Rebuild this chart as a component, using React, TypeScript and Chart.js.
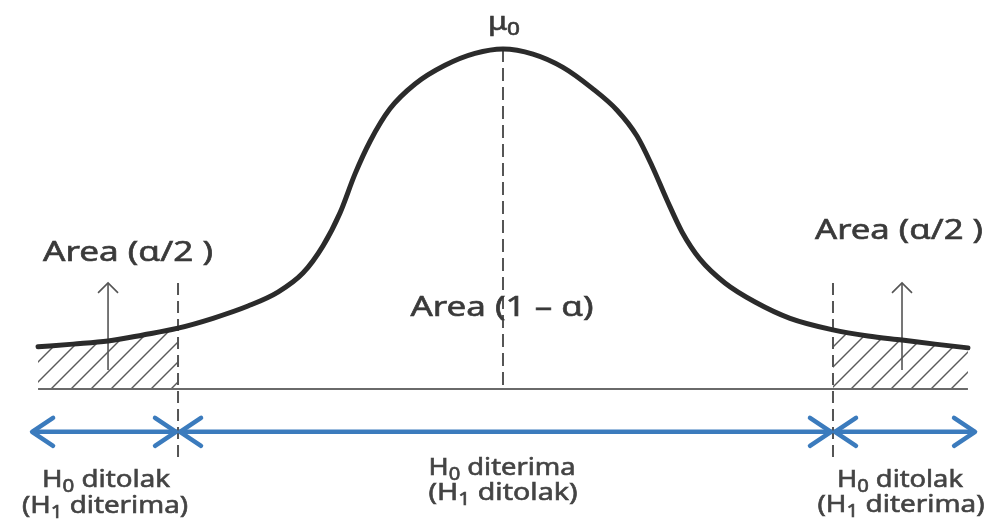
import React, { useEffect, useRef } from "react";
import { Chart, registerables } from "chart.js";

Chart.register(...registerables);

// Bell curve (z = distance from the mean in sd units, h = relative height)
const curveZ = [-2.87, -2.654, -2.438, -2.222, -2.006, -1.79, -1.574, -1.389, -1.235, -1.111, -1.006, -0.914, -0.821, -0.698, -0.543, -0.358, -0.173, 0, 0.185, 0.37, 0.549, 0.704, 0.827, 0.92, 1.012, 1.105, 1.216, 1.37, 1.556, 1.772, 2.037, 2.253, 2.463, 2.667, 2.87];
const curveH = [0.124, 0.132, 0.141, 0.159, 0.179, 0.208, 0.244, 0.285, 0.341, 0.421, 0.518, 0.632, 0.728, 0.824, 0.897, 0.952, 0.987, 1.0, 0.985, 0.946, 0.885, 0.82, 0.744, 0.656, 0.556, 0.462, 0.382, 0.312, 0.256, 0.208, 0.174, 0.156, 0.144, 0.132, 0.121];

const meanZ = 0;
const criticalZ = [-2.006, 2.037];
const baselineEnds = [-2.87, 2.87];
const rangeEnds = [-2.907, 2.914];
const arrowLevel = -0.126;
const guideSpan = [0.312, -0.218];
const upArrowZ = [-2.438, 2.463];
const upArrowSpan = [0.056, 0.312];

const textLabels = ["Area (α/2 )", "Area (α/2 )", "Area (1 – α)"];
const regionTop = ["H|0| ditolak", "H|0| diterima", "H|0| ditolak"];
const regionBottom = ["(H|1| diterima)", "(H|1| ditolak)", "(H|1| diterima)"];
const meanLabel = "μ|0|";

function makePattern(): CanvasPattern | string {
  const c = document.createElement("canvas");
  c.width = 20;
  c.height = 20;
  const g = c.getContext("2d");
  if (!g) return "rgba(0,0,0,0)";
  g.strokeStyle = "#5a5a5a";
  g.lineWidth = 1.4;
  for (const k of [0, 20, 40]) {
    g.beginPath();
    g.moveTo(k - 22, 22);
    g.lineTo(k + 2, -2);
    g.stroke();
  }
  return g.createPattern(c, "repeat") || "#ccc";
}

function parse(s: string) {
  const parts = s.split("|");
  return parts.map((t, i) => ({ t, sub: i % 2 === 1 })).filter((p) => p.t.length);
}

function drawRich(ctx: CanvasRenderingContext2D, text: string, cx: number, base: number, size: number, width: number, color: string) {
  const segs = parse(text);
  ctx.save();
  let total = 0;
  const ms = segs.map((s) => {
    const fs = s.sub ? size * 0.74 : size;
    ctx.font = `${fs}px "Noto Sans"`;
    const w = ctx.measureText(s.t).width;
    total += w;
    return { ...s, fs, w };
  });
  const sx = width / total;
  ctx.translate(cx - width / 2, base);
  ctx.scale(sx, 1);
  ctx.fillStyle = color;
  ctx.strokeStyle = color;
  ctx.lineWidth = 0.6;
  ctx.textBaseline = "alphabetic";
  ctx.textAlign = "left";
  let x = 0;
  for (const m of ms) {
    ctx.font = `${m.fs}px "Noto Sans"`;
    const y = m.sub ? size * 0.2 : 0;
    ctx.fillText(m.t, x, y);
    ctx.strokeText(m.t, x, y);
    x += m.w;
  }
  ctx.restore();
}

const annotPlugin = {
  id: "annot",
  afterDatasetsDraw(chart: any) {
    const ctx: CanvasRenderingContext2D = chart.ctx;
    const xs = chart.scales.x;
    const ys = chart.scales.y;
    const px = (v: number) => xs.getPixelForValue(v);
    const py = (v: number) => ys.getPixelForValue(v);

    ctx.save();
    ctx.strokeStyle = "#3b7bbd";
    ctx.lineWidth = 4.5;
    ctx.lineCap = "round";
    ctx.lineJoin = "round";
    const stops = [rangeEnds[0], criticalZ[0], criticalZ[1], rangeEnds[1]];
    const yA = py(arrowLevel);
    const head = (tip: number, dir: number) => {
      ctx.beginPath();
      ctx.moveTo(tip + dir * 21, yA - 14);
      ctx.lineTo(tip, yA);
      ctx.lineTo(tip + dir * 21, yA + 14);
      ctx.stroke();
    };
    for (let i = 0; i < 3; i++) {
      const a = px(stops[i]);
      const b = px(stops[i + 1]);
      head(a + (i === 0 ? 0 : 2), 1);
      head(b - (i === 2 ? 0 : 2), -1);
    }
    ctx.restore();

    ctx.save();
    ctx.strokeStyle = "#555";
    ctx.lineWidth = 1.6;
    for (const z of upArrowZ) {
      const x = px(z);
      const y = py(upArrowSpan[1]);
      ctx.beginPath();
      ctx.moveTo(x - 10, y + 10);
      ctx.lineTo(x, y);
      ctx.lineTo(x + 10, y + 10);
      ctx.stroke();
    }
    ctx.restore();

    const dark = "#3a3a3a";
    drawRich(ctx, meanLabel, 504, 30, 25, 32, dark);
    drawRich(ctx, textLabels[0], 128, 261, 27, 170, dark);
    drawRich(ctx, textLabels[1], 899, 239, 27, 168, dark);
    drawRich(ctx, textLabels[2], 502, 316, 28, 183, dark);
    const tops = [
      [106, 487, 128],
      [502, 475, 147],
      [900, 487, 126],
    ];
    const bots = [
      [105, 513, 166],
      [503, 500, 149],
      [901, 512, 167],
    ];
    for (let i = 0; i < 3; i++) {
      drawRich(ctx, regionTop[i], tops[i][0], tops[i][1], 24, tops[i][2], "#444");
      drawRich(ctx, regionBottom[i], bots[i][0], bots[i][1], 24, bots[i][2], "#444");
    }
  },
};

export default function App() {
  const ref = useRef<HTMLCanvasElement | null>(null);
  useEffect(() => {
    if (!ref.current) return;
    const pattern = makePattern();
    const pts = curveZ.map((z, i) => ({ x: z, y: curveH[i] }));
    const leftTail = pts.filter((p) => p.x <= criticalZ[0] + 1e-9);
    const rightTail = pts.filter((p) => p.x >= criticalZ[1] - 1e-9);
    const meanH = curveH[curveZ.indexOf(meanZ)];
    const dashGray = "#555";
    const common = { showLine: true, pointRadius: 0, pointHoverRadius: 0 };
    const stops = [rangeEnds[0], criticalZ[0], criticalZ[1], rangeEnds[1]];
    const chart = new Chart(ref.current, {
      type: "scatter",
      data: {
        datasets: [
          { ...common, data: pts, borderColor: "#2b2b2b", borderWidth: 5, cubicInterpolationMode: "monotone", borderCapStyle: "round", order: 0, fill: false },
          { ...common, data: [{ x: meanZ, y: meanH }, { x: meanZ, y: 0 }], borderColor: dashGray, borderWidth: 2, borderDash: [13, 6], order: 1 },
          ...criticalZ.map((z) => ({ ...common, data: [{ x: z, y: guideSpan[0] }, { x: z, y: guideSpan[1] }], borderColor: dashGray, borderWidth: 2, borderDash: [12, 6], order: 1 })),
          ...upArrowZ.map((z) => ({ ...common, data: [{ x: z, y: upArrowSpan[0] }, { x: z, y: upArrowSpan[1] }], borderColor: "#555", borderWidth: 1.6, order: 1 })),
          ...[0, 1, 2].map((i) => ({ ...common, data: [{ x: stops[i], y: arrowLevel }, { x: stops[i + 1], y: arrowLevel }], borderColor: "#3b7bbd", borderWidth: 4.5, order: 1 })),
          { ...common, data: [{ x: baselineEnds[0], y: 0 }, { x: baselineEnds[1], y: 0 }], borderColor: "#6a6a6a", borderWidth: 2, order: 2 },
          { ...common, data: leftTail, borderWidth: 0, borderColor: "rgba(0,0,0,0)", backgroundColor: pattern, fill: "origin", cubicInterpolationMode: "monotone", order: 3 },
          { ...common, data: rightTail, borderWidth: 0, borderColor: "rgba(0,0,0,0)", backgroundColor: pattern, fill: "origin", cubicInterpolationMode: "monotone", order: 3 },
        ] as any,
      },
      options: {
        animation: false,
        responsive: false,
        maintainAspectRatio: false,
        layout: { padding: 0 },
        events: [],
        plugins: { legend: { display: false }, tooltip: { enabled: false } },
        scales: {
          x: { type: "linear", min: -3.1049, max: 3.0679, display: false },
          y: { type: "linear", min: -0.40294, max: 1.14412, display: false },
        },
      },
      plugins: [annotPlugin],
    });
    return () => chart.destroy();
  }, []);
  return (
    <div style={{ position: "fixed", left: 0, top: 0, width: 1000, height: 526, background: "#fff" }}>
      <canvas ref={ref} width={1000} height={526} style={{ display: "block", width: 1000, height: 526 }} />
    </div>
  );
}
